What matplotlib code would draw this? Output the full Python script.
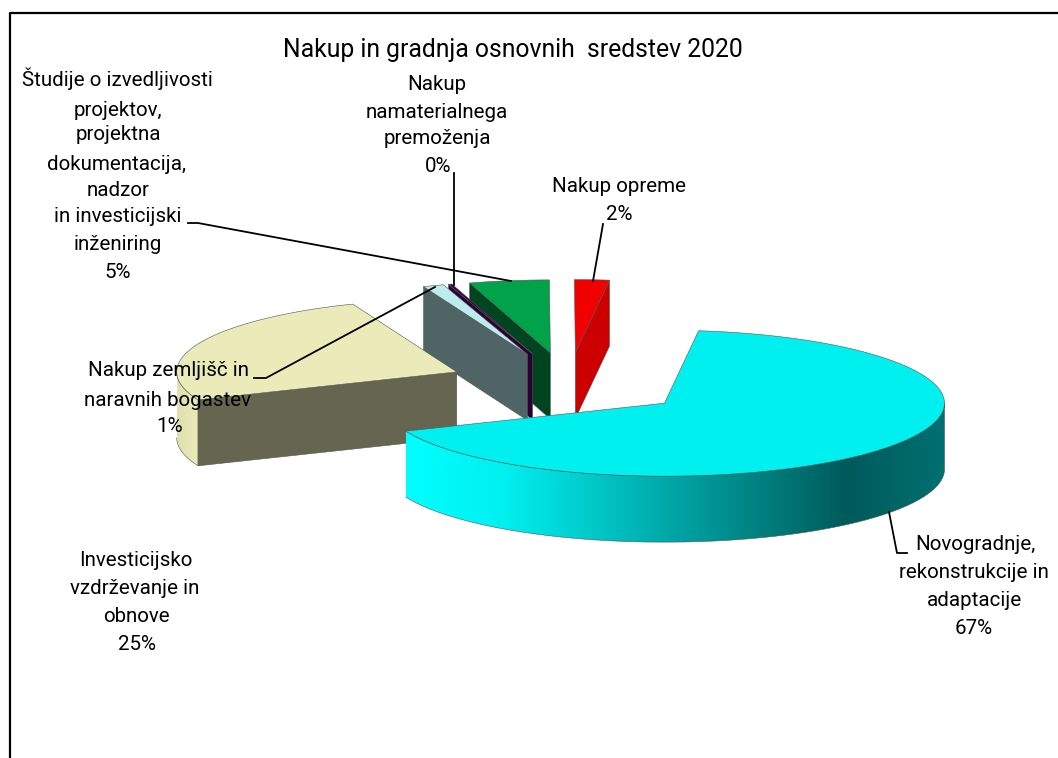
import numpy as np
import matplotlib
matplotlib.use("Agg")
import matplotlib.pyplot as plt
from matplotlib.colors import LinearSegmentedColormap
from matplotlib.patches import Polygon

plt.rcParams["font.family"] = ["Roboto", "DejaVu Sans"]

# slices, clockwise from the start angle (percent)
slice_names = ["Novogradnje", "Investicijsko", "Zemljisca", "Studije", "Namaterialno", "Oprema"]
slice_values = [66.8, 25.2, 1.2, 0.2, 4.6, 2.0]
top_colors = ["#00F0F0", "#EBEBBA", "#BCECEC", "#33003F", "#00A24A", "#F00000"]
cut_colors = ["#005A5A", "#666650", "#4F6565", "#2A0033", "#00451F", "#CC0000"]
draw_order = [5, 4, 3, 2, 1, 0]

title_text = "Nakup in gradnja osnovnih  sredstev 2020"

# (text, x centre, y centre) per line, the source has uneven line spacing
label_lines = [
    ("Študije o izvedljivosti", 117, 79),
    ("projektov,", 118, 110),
    ("projektna", 118, 134),
    ("dokumentacija,", 117, 164),
    ("nadzor", 118, 191),
    ("in investicijski", 118, 216),
    ("inženiring", 118, 245),
    ("5%", 118, 273),
    ("Nakup", 437, 85),
    ("namaterialnega", 437, 112),
    ("premoženja", 437, 139),
    ("0%", 438, 166),
    ("Nakup opreme", 619, 187),
    ("2%", 619, 214),
    ("Nakup zemljišč in", 168.5, 371),
    ("naravnih bogastev", 168, 400),
    ("1%", 170, 426),
    ("Investicijsko", 136, 561),
    ("vzdrževanje in", 135, 589),
    ("obnove", 136, 617),
    ("25%", 137, 645),
    ("Novogradnje,", 975, 545),
    ("rekonstrukcije in", 974, 573),
    ("adaptacije", 974, 601),
    ("67%", 974, 629),
]

leaders = [
    [(188, 223), (198, 223), (511, 281)],
    [(454, 173), (454, 285)],
    [(603, 224), (593, 281)],
    [(254, 378), (266, 378), (435, 287)],
    [(889, 512), (897, 553), (907, 553)],
]

# pie geometry, in pixels
CENTER = (568.2, 384.1)
RX, RY = 280, 73
DEPTH = 66
EXPLODE = 0.432
START_ANGLE = 83


def arc(apex, a0, a1, n=120):
    t = np.radians(np.linspace(a0, a1, n))
    return np.column_stack([apex[0] + RX * np.cos(t), apex[1] - RY * np.sin(t)])


def down(pts):
    return np.asarray(pts) + [0, DEPTH]


def outer_wall(ax, apex, a0, a1, cmap, z):
    # front wall of a slice, shaded left to right
    edge = arc(apex, a0, a1)
    poly = np.vstack([edge, down(edge)[::-1]])
    x0, x1 = poly[:, 0].min(), poly[:, 0].max()
    y0, y1 = poly[:, 1].min(), poly[:, 1].max()
    grad = np.linspace(0, 1, 256).reshape(1, -1)
    im = ax.imshow(grad, cmap=cmap, extent=(x0, x1, y1, y0), aspect="auto", zorder=z)
    patch = Polygon(poly, closed=True, fc="none", ec="none")
    ax.add_patch(patch)
    im.set_clip_path(patch)
    ax.plot(poly[:, 0], poly[:, 1], color="#555555", lw=0.4, zorder=z)


def cut_face(ax, apex, angle, color, z):
    rim = arc(apex, angle, angle, 1)[0]
    pts = [apex, rim, down(rim), down(apex)]
    ax.add_patch(Polygon(pts, closed=True, fc=color, ec="#555555", lw=0.4, zorder=z))


fig = plt.figure(figsize=(10.58, 7.58), dpi=100)
ax = fig.add_axes([0, 0, 1, 1])

# chart frame: only the left and top edges are in the picture
ax.plot([9.5, 9.5, 1058], [758, 12.5, 12.5], color="black", lw=1.6, zorder=1)

teal_wall = LinearSegmentedColormap.from_list(
    "teal_wall", [(0, "#00FFFF"), (0.18, "#00F0F0"), (0.45, "#00B0B0"), (0.82, "#005A5A"), (1, "#007070")])
cream_wall = LinearSegmentedColormap.from_list("cream_wall", ["#E0E0AE", "#EBEBBA"])

# slice angles come from the values, going clockwise
angles = START_ANGLE - np.concatenate([[0], np.cumsum(slice_values)]) * 3.6
mids = (angles[:-1] + angles[1:]) / 2

z = 2
for i in draw_order:
    a0, a1 = angles[i], angles[i + 1]
    m = np.radians(mids[i])
    apex = (CENTER[0] + EXPLODE * RX * np.cos(m), CENTER[1] - EXPLODE * RY * np.sin(m))

    if i == 0:
        outer_wall(ax, apex, a1, 0, teal_wall, z)
    elif i == 1:
        outer_wall(ax, apex, -180, a0, cream_wall, z)
        cut_face(ax, apex, a0, cut_colors[i], z)
    elif i == 5:
        # red slice shows its right hand cut, the others the left hand one
        cut_face(ax, apex, a1, cut_colors[i], z)
    else:
        cut_face(ax, apex, a0, cut_colors[i], z)

    rim = arc(apex, a0, a1)
    ax.add_patch(Polygon(np.vstack([[apex], rim]), closed=True, fc=top_colors[i],
                         ec="#555555", lw=0.4, zorder=z))
    z += 1

for pts in leaders:
    xs, ys = zip(*pts)
    ax.plot(xs, ys, color="black", lw=1.3, zorder=50)

ax.text(512.5, 50, title_text, fontsize=17.8, ha="center", va="center", color="black", zorder=60)
for txt, x, y in label_lines:
    ax.text(x, y, txt, fontsize=14.8, ha="center", va="center", color="black", zorder=60)

ax.set_xlim(0, 1058)
ax.set_ylim(758, 0)
ax.axis("off")

fig.savefig("out.png", dpi=100)
